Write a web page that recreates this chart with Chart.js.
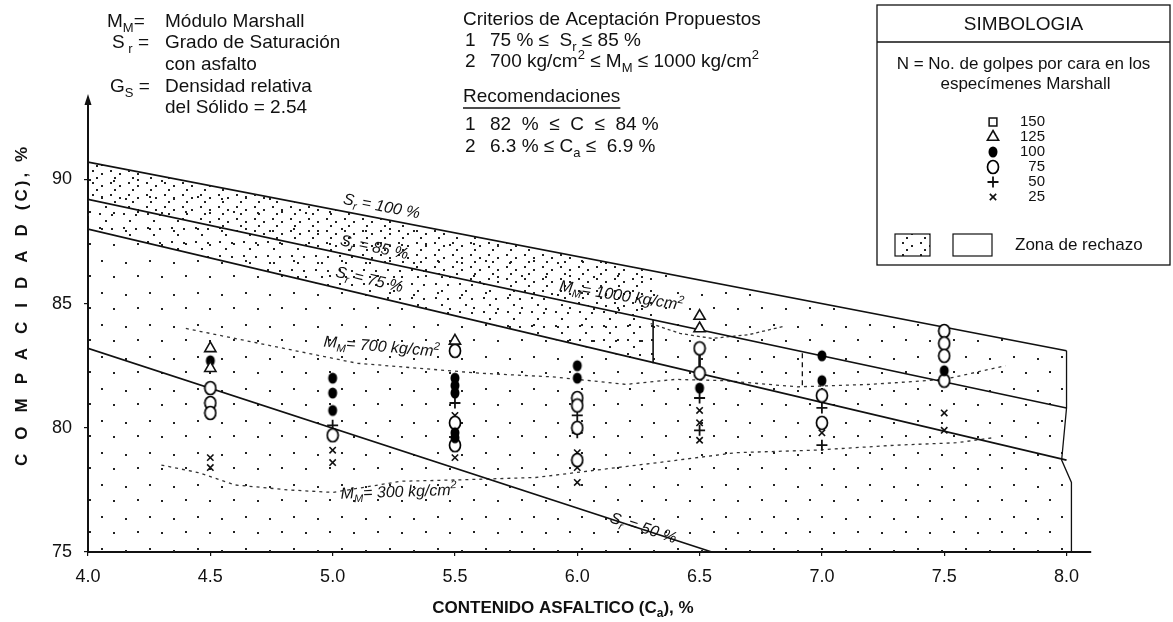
<!DOCTYPE html>
<html lang="es">
<head>
<meta charset="utf-8">
<title>Compacidad vs contenido asfáltico</title>
<script src="https://cdn.jsdelivr.net/npm/chart.js@4.4.1/dist/chart.umd.min.js"></script>
<style>
html,body{margin:0;padding:0;background:#fff;}
#wrap{position:relative;width:1173px;height:622px;}
</style>
</head>
<body>
<div id="wrap"><canvas id="c" width="1173" height="622"></canvas></div>
<script>
// ---- Ejes ----
const ejeX = [4.0, 4.5, 5.0, 5.5, 6.0, 6.5, 7.0, 7.5, 8.0];
const ejeXEtiquetas = ['4.0', '4.5', '5.0', '5.5', '6.0', '6.5', '7.0', '7.5', '8.0'];
const ejeY = [75, 80, 85, 90];

// ---- Líneas de saturación (Sr) ----
const srCa = [4.0, 8.0];
const sr100 = [90.7, 83.1];
const sr85 = [89.2, 80.8];
const sr75 = [88.0, 78.7];
const sr50Ca = [4.0, 6.55];
const sr50 = [83.2, 75.0];

// ---- Curvas de módulo Marshall (MM) ----
const mm1000Ca = [6.3, 6.42, 6.55, 6.7, 6.85];
const mm1000 = [84.2, 83.8, 83.6, 83.75, 84.1];
const mm700Ca = [4.4, 4.75, 5.1, 5.6, 5.9, 6.2, 6.4, 6.6, 6.9, 7.2, 7.5, 7.75];
const mm700 = [84.0, 83.3, 82.6, 82.2, 82.05, 81.75, 81.95, 81.9, 81.65, 81.75, 81.95, 82.5];
const mm300Ca = [4.3, 4.45, 4.6, 4.82, 5.0, 5.28, 5.5, 5.83, 6.08, 6.33, 6.65, 6.97, 7.3, 7.55, 7.7];
const mm300 = [78.5, 78.2, 77.7, 77.5, 77.4, 77.85, 77.9, 78.0, 78.3, 78.6, 79.0, 79.1, 79.3, 79.4, 79.6];

// ---- Zona recomendada y límites ----
const zonaIzqCa = [6.31, 6.31];
const zonaIzq = [84.35, 82.6];
const zonaDerCa = [6.92, 6.92];
const zonaDer = [83.0, 81.65];
const barraCa = [6.5, 6.5];
const barra = [83.2, 82.2];
const limiteCa = [8.0, 8.0, 7.98, 8.02, 8.02];
const limite = [83.1, 80.8, 78.7, 77.8, 75.0];

// ---- Zona de rechazo (punteada) ----
const rechCa = [4.0, 6.31];
const rechSup = [90.7, 86.3];
const rechMed = [89.2, 84.35];
const rechInf = [88.0, 82.6];

// ---- Especímenes Marshall por número de golpes ----
const n150Ca = [];
const n150 = [];
const n125Ca = [4.5, 4.5, 5.5, 6.5, 6.5];
const n125 = [83.2, 82.4, 83.5, 84.5, 84.0];
const n100Ca = [4.5, 5.0, 5.0, 5.0, 5.5, 5.5, 5.5, 5.5, 5.5, 6.0, 6.0, 6.5, 7.0, 7.0, 7.5];
const n100 = [82.7, 82.0, 81.4, 80.7, 82.0, 81.7, 81.4, 79.8, 79.6, 82.5, 82.0, 81.6, 82.9, 81.9, 82.3];
const n75Ca = [4.5, 4.5, 4.5, 5.0, 5.5, 5.5, 5.5, 6.0, 6.0, 6.0, 6.0, 6.5, 6.5, 7.0, 7.0, 7.5, 7.5, 7.5, 7.5];
const n75 = [81.6, 81.0, 80.6, 79.7, 83.1, 80.2, 79.3, 81.2, 80.9, 80.0, 78.7, 83.2, 82.2, 81.3, 80.2, 83.9, 83.4, 82.9, 81.9];
const n50Ca = [5.0, 5.5, 6.0, 6.0, 6.5, 6.5, 7.0, 7.0];
const n50 = [80.1, 81.0, 80.5, 79.8, 81.2, 79.9, 80.8, 79.3];
const n25Ca = [4.5, 4.5, 5.0, 5.0, 5.5, 5.5, 6.0, 6.0, 6.0, 6.5, 6.5, 6.5, 7.0, 7.5, 7.5];
const n25 = [78.8, 78.4, 79.1, 78.6, 80.5, 78.8, 79.0, 78.4, 77.8, 80.7, 80.2, 79.5, 79.8, 80.6, 79.9];

// ================================================================
const FAM = '"Liberation Sans", Arial, Helvetica, sans-serif';
const NEGRO = '#111';
Chart.defaults.font.family = FAM;
Chart.defaults.color = NEGRO;

const canvas = document.getElementById('c');
const ctx0 = canvas.getContext('2d');

function patron(w, h, dots) {
  const t = document.createElement('canvas');
  t.width = w; t.height = h;
  const g = t.getContext('2d');
  g.fillStyle = '#222';
  dots.forEach(([x, y]) => g.fillRect(x, y, 2, 2));
  return ctx0.createPattern(t, 'repeat');
}
const patRalo = patron(48, 32, [[5, 4], [29, 6], [17, 20], [41, 19]]);
const patDenso = patron(18, 12, [[2, 2], [11, 5], [6, 9]]);
const patMedio = patron(24, 14, [[3, 3], [15, 4], [9, 10]]);

function ovalo(w, h, lleno) {
  const c = document.createElement('canvas');
  c.width = w + 3; c.height = h + 3;
  const g = c.getContext('2d');
  g.beginPath();
  g.ellipse(c.width / 2, c.height / 2, w / 2, h / 2, 0, 0, Math.PI * 2);
  if (lleno) { g.fillStyle = '#000'; g.fill(); }
  else { g.fillStyle = '#fff'; g.fill(); g.lineWidth = 1.7; g.strokeStyle = '#000'; g.stroke(); }
  return c;
}

const puntos = (xs, ys) => xs.map((x, i) => ({ x, y: ys[i] }));

const series = [
  { label: '150', xs: n150Ca, ys: n150, estilo: 'rect', radio: 5.5, fondo: '#fff', borde: 1.5 },
  { label: '125', xs: n125Ca, ys: n125, estilo: 'triangle', radio: 6.5, fondo: '#fff', borde: 1.6 },
  { label: '100', xs: n100Ca, ys: n100, estilo: ovalo(9, 11, true), radio: 5, fondo: '#000', borde: 0 },
  { label: '75', xs: n75Ca, ys: n75, estilo: ovalo(11, 13, false), radio: 6, fondo: '#fff', borde: 1.6 },
  { label: '50', xs: n50Ca, ys: n50, estilo: 'cross', radio: 5.5, fondo: NEGRO, borde: 1.8 },
  { label: '25', xs: n25Ca, ys: n25, estilo: 'crossRot', radio: 4.5, fondo: NEGRO, borde: 1.6 }
];

const datasets = [];
series.forEach(s => datasets.push({
  label: s.label, data: puntos(s.xs, s.ys), showLine: false,
  pointStyle: s.estilo, pointRadius: s.radio, pointBackgroundColor: s.fondo,
  pointBorderColor: NEGRO, pointBorderWidth: s.borde, order: 0
}));

const linea = (xs, ys, extra) => Object.assign({
  data: puntos(xs, ys), borderColor: NEGRO, borderWidth: 1.6, pointRadius: 0,
  fill: false, tension: 0, order: 1
}, extra || {});

// Sr = 100 %: everything below it carries the light stipple
datasets.push(linea(srCa, sr100, { fill: 'start', backgroundColor: patRalo, order: 3 }));
datasets.push(linea(srCa, sr85));
datasets.push(linea(srCa, sr75));
datasets.push(linea(sr50Ca, sr50));
datasets.push(linea(mm1000Ca, mm1000, { borderDash: [3, 3], borderWidth: 1.3, borderColor: '#333' }));
datasets.push(linea(mm700Ca, mm700, { borderDash: [3, 4], borderWidth: 1.3, borderColor: '#333' }));
datasets.push(linea(mm300Ca, mm300, { borderDash: [3, 4], borderWidth: 1.3, borderColor: '#333' }));
datasets.push(linea(zonaIzqCa, zonaIzq, { borderWidth: 1.6 }));
datasets.push(linea(zonaDerCa, zonaDer, { borderDash: [5, 4], borderWidth: 1.3 }));
datasets.push(linea(barraCa, barra, { borderWidth: 2.6 }));
datasets.push(linea(limiteCa, limite, { borderWidth: 1.3 }));

const invisible = { borderColor: 'rgba(0,0,0,0)', borderWidth: 0, pointRadius: 0, order: 2 };
datasets.push(Object.assign({ data: puntos(rechCa, rechSup), fill: '+1', backgroundColor: patDenso }, invisible));
datasets.push(Object.assign({ data: puntos(rechCa, rechMed), fill: '+1', backgroundColor: patMedio }, invisible));
datasets.push(Object.assign({ data: puntos(rechCa, rechInf), fill: false }, invisible));

// ---- texto con subíndices / superíndices ----
function rich(ctx, runs, x, y, size, estilo, align) {
  estilo = estilo || '';
  const fuente = r => estilo + (r[1] ? Math.round(size * 0.68) : size) + 'px ' + FAM;
  const medir = r => { ctx.font = fuente(r); return ctx.measureText(r[0]).width; };
  const total = runs.reduce((s, r) => s + medir(r), 0);
  let cx = align === 'center' ? x - total / 2 : align === 'right' ? x - total : x;
  ctx.textBaseline = 'middle';
  ctx.textAlign = 'left';
  runs.forEach(r => {
    const w = medir(r);
    const dy = r[1] === 'sub' ? size * 0.33 : r[1] === 'sup' ? -size * 0.33 : 0;
    ctx.fillText(r[0], cx, y + dy);
    cx += w;
  });
  return total;
}

const etiquetasCurvas = [
  { runs: [['S', ''], ['r', 'sub'], [' = 100 %', '']], x: 5.2, y: 88.9, sobre: [srCa, sr100] },
  { runs: [['S', ''], ['r', 'sub'], [' = 85 %', '']], x: 5.17, y: 87.25, sobre: [srCa, sr85] },
  { runs: [['S', ''], ['r', 'sub'], [' = 75 %', '']], x: 5.15, y: 85.95, sobre: [srCa, sr75] },
  { runs: [['M', ''], ['M', 'sub'], ['= 1000 kg/cm', ''], ['2', 'sup']], x: 6.18, y: 85.3, ang: 9 },
  { runs: [['M', ''], ['M', 'sub'], ['= 700 kg/cm', ''], ['2', 'sup']], x: 5.2, y: 83.25, ang: 5 },
  { runs: [['M', ''], ['M', 'sub'], ['= 300 kg/cm', ''], ['2', 'sup']], x: 5.27, y: 77.4, ang: -2 },
  { runs: [['S', ''], ['r', 'sub'], [' = 50 %', '']], x: 6.27, y: 75.95, sobre: [sr50Ca, sr50] }
];

const fondoBlanco = {
  id: 'fondoBlanco',
  beforeDraw(chart) {
    const c = chart.ctx;
    c.save(); c.fillStyle = '#fff'; c.fillRect(0, 0, chart.width, chart.height); c.restore();
  }
};

const rotulos = {
  id: 'rotulos',
  afterDatasetsDraw(chart) {
    const c = chart.ctx, sx = chart.scales.x, sy = chart.scales.y;
    c.save();
    c.fillStyle = NEGRO;
    etiquetasCurvas.forEach(e => {
      let ang = (e.ang || 0) * Math.PI / 180;
      if (e.sobre) {
        const [xs, ys] = e.sobre;
        const dx = sx.getPixelForValue(xs[1]) - sx.getPixelForValue(xs[0]);
        const dy = sy.getPixelForValue(ys[1]) - sy.getPixelForValue(ys[0]);
        ang = Math.atan2(dy, dx);
      }
      c.save();
      c.translate(sx.getPixelForValue(e.x), sy.getPixelForValue(e.y));
      c.rotate(ang);
      rich(c, e.runs, 0, 0, 16, 'italic ', 'center');
      c.restore();
    });
    c.restore();
  }
};

const textos = {
  id: 'textos',
  afterDraw(chart) {
    const c = chart.ctx, a = chart.chartArea;
    c.save();
    c.fillStyle = NEGRO;
    c.strokeStyle = NEGRO;

    // flecha del eje vertical
    c.beginPath();
    c.moveTo(a.left, a.top - 6);
    c.lineTo(a.left - 3.5, a.top + 5);
    c.lineTo(a.left + 3.5, a.top + 5);
    c.closePath();
    c.fill();

    // definiciones
    const f = 19;
    rich(c, [['M', ''], ['M', 'sub'], ['=', '']], 107, 22, f);
    rich(c, [['Módulo Marshall', '']], 165, 22, f);
    rich(c, [['S', ''], [' r', 'sub'], [' =', '']], 112, 43, f);
    rich(c, [['Grado de Saturación', '']], 165, 43, f);
    rich(c, [['con asfalto', '']], 165, 65, f);
    rich(c, [['G', ''], ['S', 'sub'], [' =', '']], 110, 87, f);
    rich(c, [['Densidad relativa', '']], 165, 87, f);
    rich(c, [['del Sólido = 2.54', '']], 165, 108, f);

    // criterios
    const cx = 463, cn = 490;
    rich(c, [['Criterios de Aceptación Propuestos', '']], cx, 20, f);
    rich(c, [['1', '']], cx + 2, 41, f);
    rich(c, [['75 % ≤  S', ''], ['r', 'sub'], [' ≤ 85 %', '']], cn, 41, f);
    rich(c, [['2', '']], cx + 2, 62, f);
    rich(c, [['700 kg/cm', ''], ['2', 'sup'], [' ≤ M', ''], ['M', 'sub'], [' ≤ 1000 kg/cm', ''], ['2', 'sup']], cn, 62, f);
    const wr = rich(c, [['Recomendaciones', '']], cx, 97, f);
    c.lineWidth = 1.3;
    c.beginPath(); c.moveTo(cx, 108); c.lineTo(cx + wr, 108); c.stroke();
    rich(c, [['1', '']], cx + 2, 125, f);
    rich(c, [['82  %  ≤  C  ≤  84 %', '']], cn, 125, f);
    rich(c, [['2', '']], cx + 2, 147, f);
    rich(c, [['6.3 % ≤ C', ''], ['a', 'sub'], [' ≤  6.9 %', '']], cn, 147, f);

    // cuadro de simbología
    const bx = 877, by = 5, bw = 293, bh = 260;
    c.fillStyle = '#fff';
    c.fillRect(bx, by, bw, bh);
    c.lineWidth = 1.3;
    c.strokeRect(bx, by, bw, bh);
    c.beginPath(); c.moveTo(bx, 42); c.lineTo(bx + bw, 42); c.stroke();
    c.fillStyle = NEGRO;
    rich(c, [['SIMBOLOGIA', '']], bx + bw / 2, 25, 19, '', 'center');
    rich(c, [['N = No. de golpes por cara en los', '']], bx + bw / 2, 64, 17, '', 'center');
    rich(c, [['especímenes Marshall', '']], bx + bw / 2 + 2, 84, 17, '', 'center');
    const ds = chart.data.datasets;
    series.forEach((s, i) => {
      const yy = 122 + i * 15;
      c.save();
      c.fillStyle = s.fondo;
      c.strokeStyle = NEGRO;
      c.lineWidth = s.borde;
      Chart.helpers.drawPoint(c, { pointStyle: s.estilo, radius: s.radio, rotation: 0, borderWidth: s.borde }, 993, yy);
      c.restore();
      c.fillStyle = NEGRO;
      rich(c, [[ds[i].label, '']], 1045, yy, 15, '', 'right');
    });
    // zona de rechazo
    c.lineWidth = 1.2;
    c.fillStyle = patDenso;
    c.fillRect(895, 234, 35, 22);
    c.strokeRect(895, 234, 35, 22);
    c.strokeRect(953, 234, 39, 22);
    c.fillStyle = NEGRO;
    rich(c, [['Zona de rechazo', '']], 1015, 245, 17);

    // títulos de ejes
    rich(c, [['CONTENIDO ASFALTICO (C', ''], ['a', 'sub'], ['), %', '']], 563, 608, 17, 'bold ', 'center');
    c.save();
    c.translate(22, 305);
    c.rotate(-Math.PI / 2);
    c.font = 'bold 17px ' + FAM;
    c.textBaseline = 'middle';
    c.textAlign = 'left';
    c.letterSpacing = '14px';
    const t1 = 'COMPACIDAD';
    const w1 = c.measureText(t1).width;
    c.letterSpacing = '3px';
    const t2 = '(C), %';
    const w2 = c.measureText(t2).width;
    const x0 = -(w1 + w2) / 2;
    c.letterSpacing = '14px';
    c.fillText(t1, x0, 0);
    c.letterSpacing = '3px';
    c.fillText(t2, x0 + w1, 0);
    c.restore();

    c.restore();
  }
};

new Chart(canvas, {
  type: 'line',
  data: { datasets },
  options: {
    responsive: false,
    animation: false,
    events: [],
    layout: { padding: { top: 100, right: 82, left: 0, bottom: 0 } },
    plugins: { legend: { display: false }, tooltip: { enabled: false }, title: { display: false } },
    scales: {
      x: {
        type: 'linear', min: 4.0, max: 8.1,
        afterBuildTicks: s => { s.ticks = ejeX.map(v => ({ value: v })); },
        afterFit: s => { s.height = 70; },
        ticks: {
          callback: v => { const i = ejeX.indexOf(v); return i >= 0 ? ejeXEtiquetas[i] : ''; },
          color: NEGRO, font: { size: 18 }, padding: 10, maxRotation: 0, autoSkip: false
        },
        grid: { drawOnChartArea: false, drawTicks: true, tickLength: 4, color: NEGRO, lineWidth: 1.2 },
        border: { display: true, color: NEGRO, width: 2 }
      },
      y: {
        type: 'linear', min: 75, max: 93.2,
        afterBuildTicks: s => { s.ticks = ejeY.map(v => ({ value: v })); },
        afterFit: s => { s.width = 88; },
        ticks: { color: NEGRO, font: { size: 18 }, padding: 12, autoSkip: false },
        grid: { drawOnChartArea: false, drawTicks: true, tickLength: 4, color: NEGRO, lineWidth: 1.2 },
        border: { display: true, color: NEGRO, width: 2 }
      }
    }
  },
  plugins: [fondoBlanco, rotulos, textos]
});
</script>
</body>
</html>
